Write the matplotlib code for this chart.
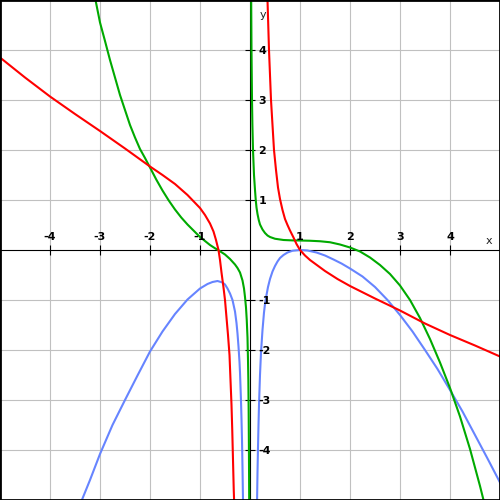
import matplotlib
matplotlib.use('Agg')
import matplotlib.pyplot as plt
from matplotlib.patches import Rectangle

# ---- data ----
x_ticks = [-4, -3, -2, -1, 1, 2, 3, 4]
x_tick_labels = ['-4', '-3', '-2', '-1', '1', '2', '3', '4']
y_ticks = [-4, -3, -2, -1, 1, 2, 3, 4]
y_tick_labels = ['-4', '-3', '-2', '-1', '1', '2', '3', '4']

# blue curve (two branches)
blue_left_x = [-3.45, -3.35, -3.2, -3.0, -2.75, -2.5, -2.25, -2.0, -1.75, -1.5, -1.25,
               -1.0, -0.85, -0.75, -0.65, -0.55, -0.5, -0.45, -0.4, -0.35, -0.3, -0.27,
               -0.25, -0.23, -0.21, -0.2, -0.18, -0.17, -0.16, -0.15, -0.14, -0.13]
blue_left_y = [-5.22, -4.97, -4.6, -4.08, -3.5, -3.0, -2.51, -2.03, -1.63, -1.28, -0.99,
               -0.77, -0.68, -0.64, -0.62, -0.65, -0.69, -0.77, -0.87, -1.0, -1.23, -1.46,
               -1.67, -1.93, -2.24, -2.45, -3.02, -3.38, -3.8, -4.35, -5.0, -5.8]
blue_right_x = [0.13, 0.14, 0.15, 0.16, 0.17, 0.18, 0.2, 0.22, 0.25, 0.28, 0.3, 0.33,
                0.36, 0.4, 0.45, 0.5, 0.55, 0.6, 0.67, 0.75, 0.85, 1.0, 1.15, 1.33, 1.5,
                1.67, 1.83, 2.0, 2.25, 2.5, 2.75, 3.0, 3.25, 3.5, 3.75, 4.0, 4.25, 4.5,
                4.75, 5.0, 5.1]
blue_right_y = [-5.7, -5.1, -4.45, -3.95, -3.5, -3.1, -2.5, -2.05, -1.6, -1.25, -1.08, -0.9,
                -0.74, -0.58, -0.43, -0.32, -0.23, -0.16, -0.1, -0.05, -0.015, 0.0, -0.01,
                -0.05, -0.11, -0.19, -0.27, -0.37, -0.53, -0.74, -1.0, -1.3, -1.63, -2.0,
                -2.38, -2.8, -3.23, -3.7, -4.17, -4.65, -4.85]

# red curve (two branches)
red_left_x = [-5.1, -5.0, -4.5, -4.0, -3.5, -3.0, -2.5, -2.0, -1.75, -1.5, -1.25, -1.0,
              -0.9, -0.8, -0.73, -0.68, -0.63, -0.6, -0.57, -0.53, -0.5, -0.47, -0.44,
              -0.41, -0.39, -0.37, -0.355, -0.34, -0.325, -0.315, -0.305]
red_left_y = [3.93, 3.85, 3.45, 3.07, 2.72, 2.38, 2.03, 1.67, 1.5, 1.32, 1.1, 0.84,
              0.7, 0.53, 0.37, 0.2, 0.0, -0.2, -0.45, -0.75, -1.0, -1.35, -1.7,
              -2.1, -2.6, -3.1, -3.6, -4.2, -4.8, -5.1, -5.5]
red_right_x = [0.34, 0.35, 0.365, 0.38, 0.4, 0.42, 0.45, 0.48, 0.52, 0.56, 0.6, 0.65,
               0.7, 0.75, 0.8, 0.87, 0.93, 1.0, 1.1, 1.2, 1.35, 1.5, 1.75, 2.0, 2.5,
               3.0, 3.5, 4.0, 4.5, 5.0, 5.1]
red_right_y = [5.3, 5.0, 4.5, 4.0, 3.5, 3.0, 2.5, 2.0, 1.6, 1.25, 1.02, 0.8,
               0.62, 0.5, 0.39, 0.25, 0.12, 0.0, -0.11, -0.2, -0.31, -0.42, -0.58, -0.72,
               -0.97, -1.21, -1.47, -1.7, -1.91, -2.13, -2.17]

# green curve (two branches)
green_left_x = [-3.13, -3.09, -3.0, -2.9, -2.8, -2.7, -2.6, -2.5, -2.4, -2.3, -2.2, -2.1,
                -2.0, -1.875, -1.75, -1.625, -1.5, -1.375, -1.25, -1.125, -1.0, -0.9,
                -0.8, -0.7, -0.6, -0.5, -0.4, -0.3, -0.25, -0.2, -0.15, -0.12, -0.1,
                -0.08, -0.065, -0.05, -0.04, -0.033, -0.027, -0.022, -0.018, -0.015,
                -0.013]
green_left_y = [5.3, 5.0, 4.55, 4.18, 3.8, 3.45, 3.1, 2.8, 2.5, 2.25, 2.02, 1.84,
                1.65, 1.41, 1.19, 0.99, 0.81, 0.65, 0.51, 0.385, 0.26, 0.18,
                0.1, 0.035, -0.025, -0.09, -0.18, -0.29, -0.36, -0.45, -0.61, -0.77, -0.94,
                -1.15, -1.4, -1.75, -2.2, -2.6, -3.2, -3.9, -4.6, -5.2,
                -5.6]
green_right_x = [0.022, 0.024, 0.03, 0.04, 0.048, 0.06, 0.08, 0.1, 0.115, 0.13, 0.15,
                 0.175, 0.2, 0.25, 0.3, 0.35, 0.4, 0.5, 0.67, 0.85, 1.0, 1.2, 1.4, 1.6,
                 1.8, 2.0, 2.2, 2.4, 2.6, 2.8, 3.0, 3.2, 3.4, 3.6, 3.8, 4.0, 4.2, 4.4,
                 4.6, 4.67, 4.75]
green_right_y = [5.5, 5.0, 4.0, 3.0, 2.5, 2.0, 1.5, 1.2, 1.0, 0.85, 0.72,
                 0.6, 0.51, 0.41, 0.34, 0.29, 0.26, 0.225, 0.2, 0.192, 0.19, 0.185, 0.175,
                 0.155, 0.11, 0.05, -0.03, -0.15, -0.3, -0.48, -0.71, -1.0, -1.36, -1.78,
                 -2.25, -2.76, -3.33, -3.98, -4.72, -5.0, -5.3]

RED = '#ff0000'
GREEN = '#00aa00'
BLUE = '#6684ff'

fig = plt.figure(figsize=(5, 5), dpi=100)
ax = fig.add_axes([0, 0, 1, 1])
ax.set_xlim(-5, 5)
ax.set_ylim(-5, 5)

for s in ['top', 'right']:
    ax.spines[s].set_visible(False)
for s in ['left', 'bottom']:
    ax.spines[s].set_position(('data', 0))
    ax.spines[s].set_linewidth(0.8)
    ax.spines[s].set_color('black')
    ax.spines[s].set_zorder(2.5)

ax.set_xticks(x_ticks)
ax.set_yticks(y_ticks)
ax.tick_params(direction='inout', length=7.5, width=0.8, color='black',
               labelbottom=False, labelleft=False)
ax.grid(True, color='#c0c0c0', linewidth=0.8, zorder=0)
ax.set_axisbelow(True)

lw = 1.5
ax.plot(blue_left_x, blue_left_y, color=BLUE, lw=lw, zorder=3)
ax.plot(blue_right_x, blue_right_y, color=BLUE, lw=lw, zorder=3)
ax.plot(green_left_x, green_left_y, color=GREEN, lw=lw, zorder=3)
ax.plot(green_right_x, green_right_y, color=GREEN, lw=lw, zorder=3)
ax.plot(red_left_x, red_left_y, color=RED, lw=lw, zorder=3)
ax.plot(red_right_x, red_right_y, color=RED, lw=lw, zorder=3)

for v, lab in zip(x_ticks, x_tick_labels):
    ax.text(v, 0.17, lab, ha='center', va='bottom', fontsize=8, fontweight='bold',
            color='black', zorder=4)
for v, lab in zip(y_ticks, y_tick_labels):
    ax.text(0.17, v, lab, ha='left', va='center_baseline', fontsize=8, fontweight='bold',
            color='black', zorder=4)

ax.text(4.78, 0.21, 'x', ha='center', va='center_baseline', fontsize=8, color='#222222')
ax.text(0.26, 4.72, 'y', ha='center', va='center_baseline', fontsize=8, color='#222222')

ax.add_patch(Rectangle((0, 0), 1, 1, transform=ax.transAxes, fill=False,
                       edgecolor='black', linewidth=2, clip_on=False, zorder=5))

fig.savefig('out.png', dpi=100)
